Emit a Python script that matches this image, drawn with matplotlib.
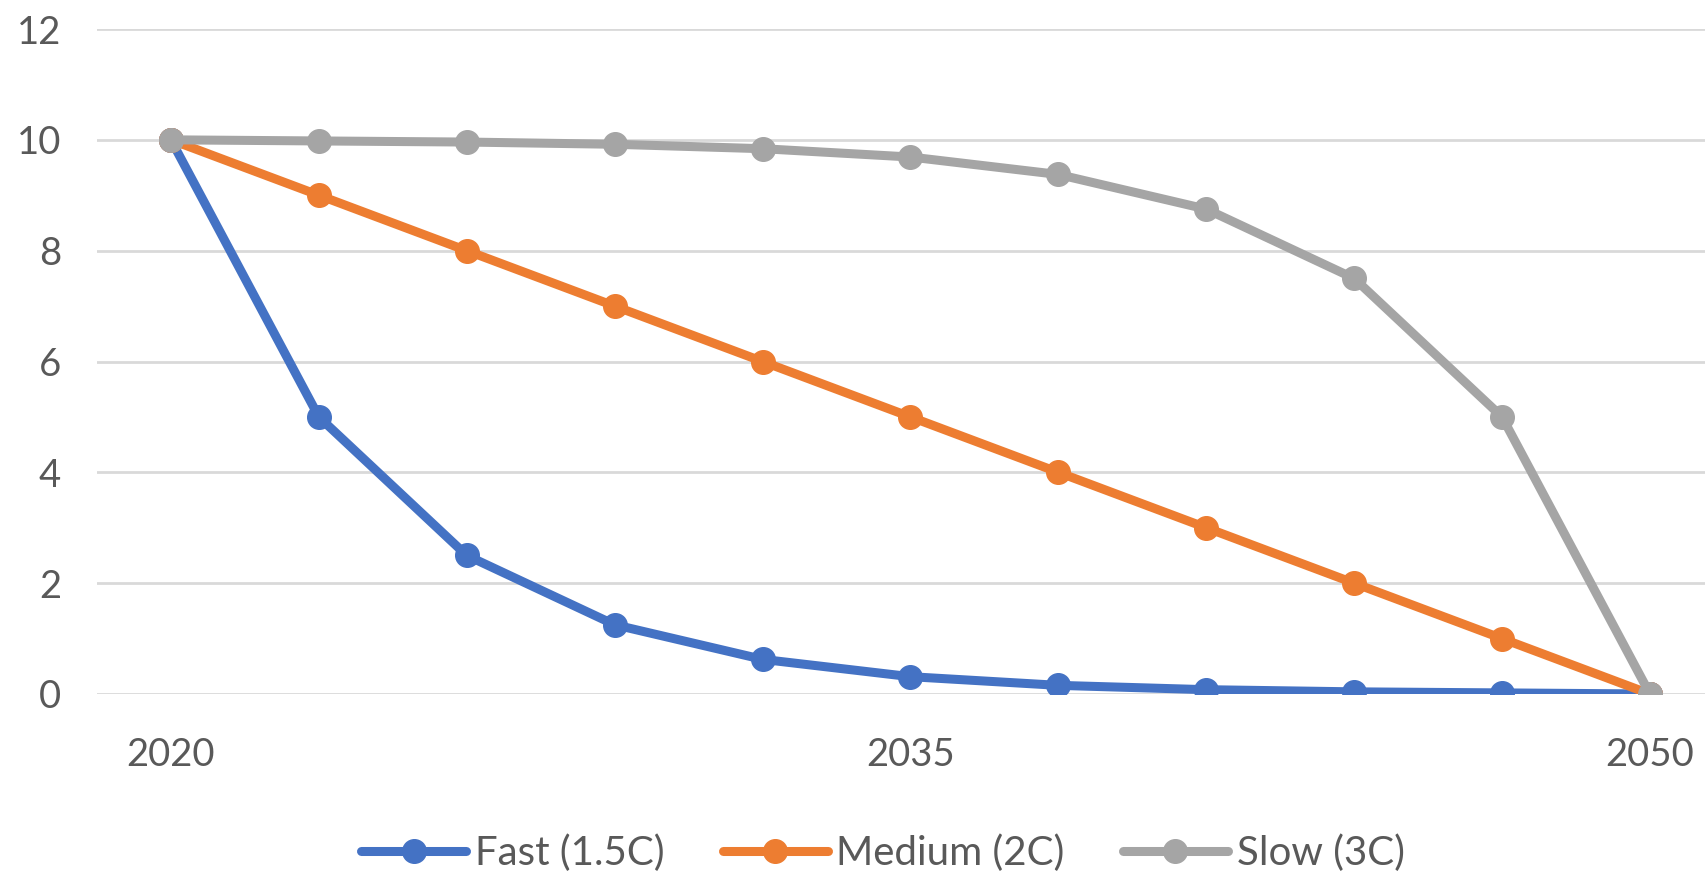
import matplotlib
matplotlib.use("Agg")
import matplotlib.pyplot as plt

years = [2020, 2023, 2026, 2029, 2032, 2035, 2038, 2041, 2044, 2047, 2050]
fast = [10, 5, 2.5, 1.25, 0.625, 0.3125, 0.156, 0.078, 0.039, 0.02, 0]
medium = [10, 9, 8, 7, 6, 5, 4, 3, 2, 1, 0]
slow = [10, 9.98, 9.96, 9.92, 9.84, 9.69, 9.375, 8.75, 7.5, 5, 0]
labels = ["Fast (1.5C)", "Medium (2C)", "Slow (3C)"]
colors = ["#4472C4", "#ED7D31", "#A5A5A5"]
shown_years = [2020, 2035, 2050]
yticks = [0, 2, 4, 6, 8, 10, 12]

plt.rcParams['font.family'] = ['Lato', 'DejaVu Sans']
W, H = 1706, 877
fig = plt.figure(figsize=(W / 100, H / 100), dpi=100)
left = 97 / W
bottom = 1 - 694 / H
height = (694 - 29) / H
width = 11 * 147.9 / W
ax = fig.add_axes([left, bottom, width, height])

x = list(range(len(years)))
for series, lab, col in zip([fast, medium, slow], labels, colors):
    ax.plot(x, series, color=col, lw=6.5, marker='o', ms=17, label=lab,
            solid_capstyle='round', zorder=3)

ax.set_xlim(-0.5, len(years) - 0.5)
ax.set_ylim(0, 12)
ax.set_yticks(yticks)
ax.set_yticklabels([str(t) for t in yticks])
ax.set_xticks([years.index(y) for y in shown_years])
ax.set_xticklabels([str(y) for y in shown_years])
ax.yaxis.grid(True, color="#D9D9D9", lw=2)
ax.set_axisbelow(True)
for s in ax.spines.values():
    s.set_visible(False)
ax.tick_params(axis='both', length=0, labelsize=27.5, labelcolor="#595959")
ax.tick_params(axis='y', pad=26)
ax.tick_params(axis='x', pad=31)

leg = fig.legend(loc='center', bbox_to_anchor=(883 / W, 1 - 853 / H),
                 ncol=3, frameon=False, fontsize=29, handlelength=2.6,
                 handletextpad=0.22, columnspacing=1.45, borderaxespad=0,
                 borderpad=0)
for t in leg.get_texts():
    t.set_color("#595959")

fig.savefig("out.png", dpi=100)
